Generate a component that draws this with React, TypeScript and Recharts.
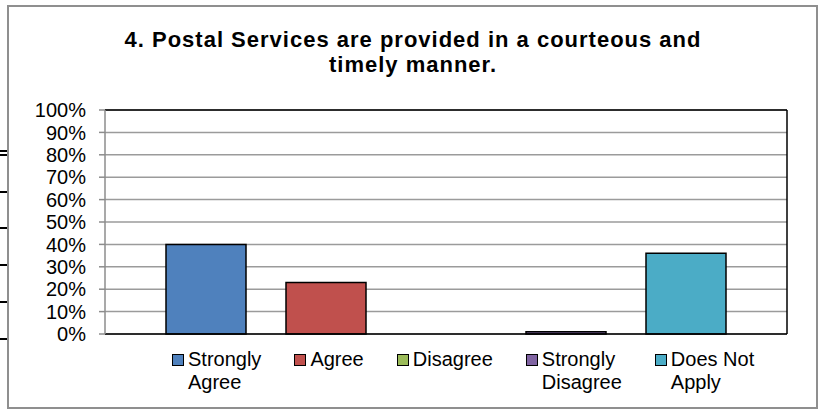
import React from "react"
import { BarChart, Bar, XAxis, YAxis, CartesianGrid, ReferenceLine } from "recharts"

// Survey question 4 — one category, five response series (percent of replies)
const title = "4. Postal Services are provided in a courteous and timely manner."
const categories = ["Q4"]
const seriesKeys = ["stronglyAgree", "agree", "disagree", "stronglyDisagree", "doesNotApply"]
const seriesNames = ["Strongly Agree", "Agree", "Disagree", "Strongly Disagree", "Does Not Apply"]
const seriesValues = [40, 23, 0, 1, 36]
const seriesColors = ["#4F81BD", "#C0504D", "#9BBB59", "#8064A2", "#4BACC6"]
const legendLines = [["Strongly", "Agree"], ["Agree"], ["Disagree"], ["Strongly", "Disagree"], ["Does Not", "Apply"]]
const yTicks = [0, 10, 20, 30, 40, 50, 60, 70, 80, 90, 100]

const FONT = '"Liberation Sans", Arial, sans-serif'

const data = categories.map((name) => {
  const row: Record<string, string | number> = { name }
  seriesKeys.forEach((k, i) => {
    row[k] = seriesValues[i]
  })
  return row
})

// stray table rules peeking in at the left edge of the screenshot
const strayRules = [150, 154, 191, 227, 264, 301, 338]

export default function App() {
  return (
    <div style={{ position: "absolute", left: 0, top: 0, width: 822, height: 410, background: "#fff", fontFamily: FONT }}>
      {strayRules.map((y) => (
        <div key={y} style={{ position: "absolute", left: 0, top: y, width: 7, height: 2, background: "#000" }} />
      ))}
      <div
        style={{
          position: "absolute",
          left: 7,
          top: 5,
          width: 811,
          height: 404,
          boxSizing: "border-box",
          border: "2px solid #8f8f8f",
        }}
      />
      <div style={{ position: "absolute", left: 0, top: 0 }}>
        <BarChart
          width={822}
          height={410}
          data={data}
          margin={{ top: 110, right: 34, bottom: 75, left: 0 }}
          barSize={80}
          barGap={40}
          style={{ fontFamily: FONT }}
        >
          <CartesianGrid yAxisId="left" vertical={false} stroke="#9b9b9b" strokeWidth={1.5} />
          <XAxis
            dataKey="name"
            height={1}
            tick={false}
            tickLine={false}
            axisLine={{ stroke: "#000", strokeWidth: 1.5 }}
          />
          <YAxis
            yAxisId="left"
            width={105}
            domain={[0, 100]}
            ticks={yTicks}
            interval={0}
            tickFormatter={(v) => `${v}%`}
            tick={{ fontSize: 20, fill: "#000", fontFamily: FONT }}
            tickSize={6}
            tickMargin={13}
            axisLine={{ stroke: "#8c8c8c", strokeWidth: 1.5 }}
            tickLine={{ stroke: "#8c8c8c", strokeWidth: 1.5 }}
          />
          <YAxis
            yAxisId="right"
            orientation="right"
            width={1}
            domain={[0, 100]}
            tick={false}
            tickLine={false}
            axisLine={{ stroke: "#000", strokeWidth: 1.5 }}
          />
          <ReferenceLine yAxisId="left" y={100} stroke="#000" strokeWidth={1.5} />
          {seriesKeys.map((k, i) => (
            <Bar
              key={k}
              yAxisId="left"
              dataKey={k}
              name={seriesNames[i]}
              fill={seriesColors[i]}
              stroke="#000"
              strokeWidth={1.5}
              isAnimationActive={false}
            />
          ))}
        </BarChart>
      </div>
      <div
        style={{
          position: "absolute",
          left: 103,
          top: 27,
          width: 620,
          textAlign: "center",
          fontWeight: "bold",
          fontSize: 22,
          lineHeight: "25px",
          letterSpacing: 1,
          color: "#000",
        }}
      >
        {title}
      </div>
      <div style={{ position: "absolute", left: 172, top: 348, display: "flex", gap: 33, alignItems: "flex-start" }}>
        {seriesNames.map((n, i) => (
          <div key={n} style={{ display: "flex", alignItems: "flex-start" }}>
            <div
              style={{
                width: 10,
                height: 10,
                marginTop: 6,
                marginRight: 4,
                border: "1px solid #000",
                background: seriesColors[i],
              }}
            />
            <div style={{ fontSize: 20, lineHeight: "23.3px", color: "#000" }}>
              {legendLines[i].map((l) => (
                <div key={l} style={{ whiteSpace: "nowrap" }}>
                  {l}
                </div>
              ))}
            </div>
          </div>
        ))}
      </div>
    </div>
  )
}
